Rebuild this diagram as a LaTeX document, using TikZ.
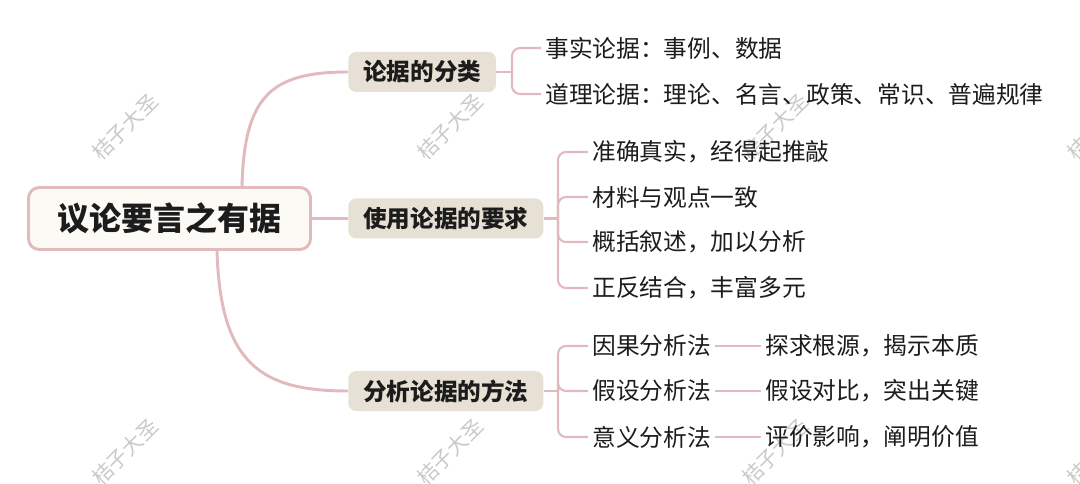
\documentclass[tikz,border=0pt]{standalone}
\usepackage{fontspec}
\setmainfont{Noto Sans CJK SC}
\usetikzlibrary{calc}
\definecolor{linkpink}{HTML}{E2BABE}
\definecolor{rootfill}{HTML}{FCFAF4}
\definecolor{lonefill}{HTML}{E7E0D4}
\definecolor{txt}{HTML}{1C1C1C}
\definecolor{wmark}{HTML}{C9C9C9}
\begin{document}
\begin{tikzpicture}[x=0.75pt,y=-0.75pt,
  rootbox/.style={draw=linkpink, line width=2.2pt, fill=rootfill, rounded corners=8pt,
    minimum width=211.5pt, minimum height=46.5pt, inner sep=0pt, text=txt,
    font=\bfseries\fontsize{24pt}{28pt}\selectfont},
  lone/.style={fill=lonefill, rounded corners=6pt, inner xsep=11.2pt, inner ysep=0pt,
    minimum height=30pt, anchor=west, text=txt,
    font=\bfseries\fontsize{17.7pt}{20pt}\selectfont},
  leaf/.style={inner xsep=3pt, inner ysep=0pt, text=txt,
    font=\fontsize{17.8pt}{20pt}\selectfont},
  mainlink/.style={draw=linkpink, line width=2.2pt},
  sublink/.style={draw=linkpink, line width=1.6pt, rounded corners=6pt},
  wm/.style={text=wmark, rotate=45, font=\fontsize{15.5pt}{18pt}\selectfont, inner sep=0pt}
]
\useasboundingbox (0,0) rectangle (1080,484);
\begin{scope}
\clip (0,0) rectangle (1080,484);
% watermarks
\foreach \wx in {125,450,775,1100}{
  \foreach \wy in {127,452}{
    \node[wm] (w\wx\wy) at (\wx,\wy) {桔子大圣};
  }
}
\end{scope}

% root
\node[rootbox] (root) at (169.5,218.5) {议论要言之有据};

% level 1
\node[lone] (la) at (348,72) {论据的分类};
\node[lone] (lb) at (348,218.5) {使用论据的要求};
\node[lone] (lc) at (348,391) {分析论据的方法};

% root links
\coordinate (rtop) at (242,187);
\coordinate (rbot) at (217,250);
\draw[mainlink] (rtop) .. controls (244,95) and (272,72) .. (la.west);
\draw[mainlink] (root.east) -- (lb.west);
\draw[mainlink] (rbot) .. controls (220,365) and (262,391) .. (lc.west);

% group 1
\node[leaf, anchor=west] (a1) at (541,48) {事实论据：事例、数据};
\node[leaf, anchor=west] (a2) at (541,94) {道理论据：理论、名言、政策、常识、普遍规律};
\coordinate (ja) at (512,72);
\draw[mainlink, line width=1.6pt] (la.east) -- (ja);
\draw[sublink] (ja) |- (a1.west);
\draw[sublink] (ja) |- (a2.west);

% group 2
\node[leaf, anchor=west] (b1) at (588,152) {准确真实，经得起推敲};
\node[leaf, anchor=west] (b2) at (588,197) {材料与观点一致};
\node[leaf, anchor=west] (b3) at (588,242) {概括叙述，加以分析};
\node[leaf, anchor=west] (b4) at (588,288) {正反结合，丰富多元};
\coordinate (jb) at (558,218.5);
\draw[mainlink, line width=1.6pt] (lb.east) -- (jb);
\foreach \n in {b1,b2,b3,b4}{\draw[sublink] (jb) |- (\n.west);}

% group 3
\node[leaf, anchor=west] (c1) at (588,346) {因果分析法};
\node[leaf, anchor=west] (c2) at (588,391) {假设分析法};
\node[leaf, anchor=west] (c3) at (588,437) {意义分析法};
\coordinate (jc) at (558,391);
\draw[mainlink, line width=1.6pt] (lc.east) -- (jc);
\foreach \n in {c1,c2,c3}{\draw[sublink] (jc) |- (\n.west);}

\node[leaf, anchor=west] (d1) at (761,346) {探求根源，揭示本质};
\node[leaf, anchor=west] (d2) at (761,391) {假设对比，突出关键};
\node[leaf, anchor=west] (d3) at (761,437) {评价影响，阐明价值};
\draw[sublink] (c1.east) -- (d1.west);
\draw[sublink] (c2.east) -- (d2.west);
\draw[sublink] (c3.east) -- (d3.west);
\end{tikzpicture}
\end{document}
